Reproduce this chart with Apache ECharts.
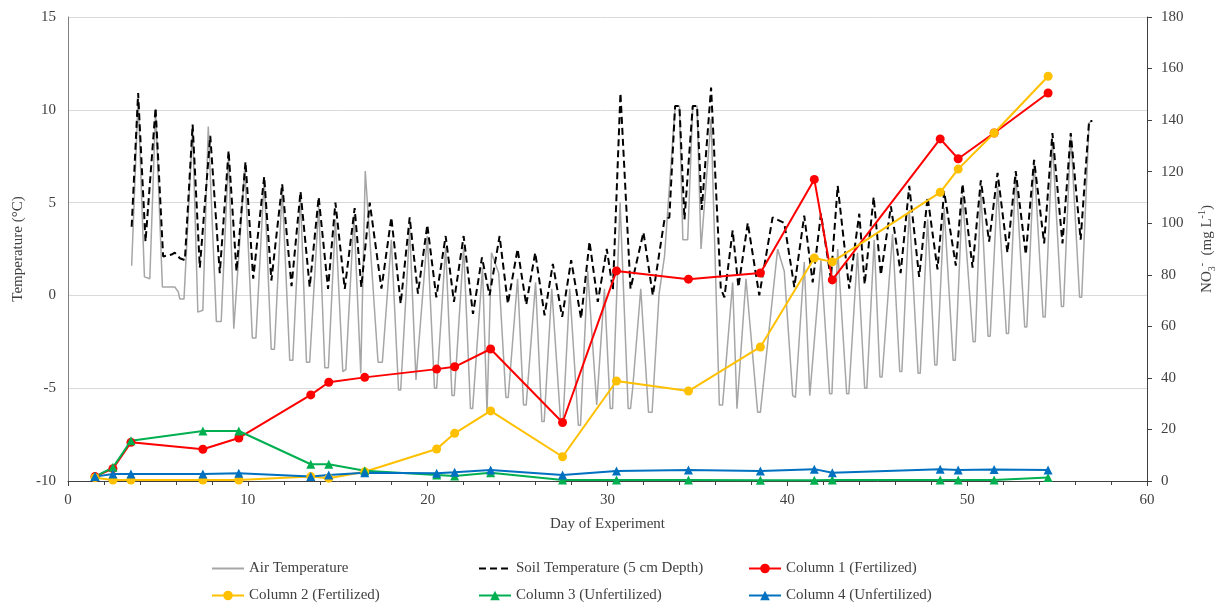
<!DOCTYPE html>
<html>
<head>
<meta charset="utf-8">
<script src="https://cdn.jsdelivr.net/npm/echarts@6/dist/echarts.min.js"></script>
<style>
  html, body { margin: 0; padding: 0; background: #fff; }
  #chart { width: 1225px; height: 608px; }
</style>
</head>
<body>
<div id="chart"></div>
<script>
var FONT = '"Liberation Serif", "Times New Roman", serif';

// sampling days of the leachate columns
var sampleDays = [1.5, 2.5, 3.5, 7.5, 9.5, 13.5, 14.5, 16.5, 20.5, 21.5, 23.5, 27.5, 30.5, 34.5, 38.5, 41.5, 42.5, 48.5, 49.5, 51.5, 54.5];
// NO3- (mg/L)
var col1 = [1.7, 4.8, 15, 12.3, 16.7, 33.4, 38.3, 40.2, 43.4, 44.3, 51.2, 22.7, 81.5, 78.3, 80.7, 117, 78, 132.7, 125, 135, 150.5];
var col2 = [1.3, 0.4, 0.4, 0.4, 0.4, 1.7, 1.1, 3.6, 12.4, 18.5, 27.2, 9.4, 38.8, 34.9, 52, 86.5, 85, 112, 121, 135, 157];
var col3 = [1.7, 5.3, 15.6, 19.4, 19.4, 6.5, 6.5, 4.0, 2.3, 1.9, 3.2, 0.4, 0.4, 0.4, 0.3, 0.3, 0.4, 0.4, 0.4, 0.4, 1.4];
var col4 = [1.7, 2.7, 2.7, 2.7, 3.0, 1.7, 2.3, 3.2, 3.0, 3.4, 4.3, 2.3, 3.9, 4.3, 3.9, 4.6, 3.2, 4.6, 4.3, 4.5, 4.3];

// [day, degC]
var soilTemp = [
  [3.54,3.7],[3.9,10.9],[4.31,2.9],[4.87,10.1],[5.29,2.1],[5.76,2.2],[5.94,2.3],[6.22,2.0],[6.5,1.9],
  [6.93,9.2],[7.33,1.5],[7.91,8.6],[8.44,1.2],[8.93,7.8],[9.37,1.3],[9.87,7.2],[10.3,0.9],[10.91,6.4],
  [11.31,0.8],[11.91,6.0],[12.43,0.5],[12.93,5.6],[13.44,0.45],[13.94,5.3],[14.46,0.35],[14.87,5.0],
  [15.39,0.35],[15.94,4.7],[16.31,0.45],[16.78,5.0],[17.43,0.36],[17.98,4.2],[18.5,-0.45],[19.0,4.2],
  [19.46,0.1],[19.98,3.8],[20.48,-0.1],[21.0,3.2],[21.46,-0.35],[22.0,3.2],[22.52,-1.0],[23.02,2.05],
  [23.44,0.0],[24.0,3.2],[24.46,-0.45],[25.0,2.5],[25.48,-0.5],[25.98,2.3],[26.5,-1.07],[26.96,1.7],
  [27.48,-1.16],[27.98,1.9],[28.53,-1.25],[29.0,2.9],[29.46,-0.35],[29.96,2.5],[30.3,0.3],[30.72,10.9],
  [31.28,0.36],[32.0,3.4],[32.52,0.0],[33.17,4.1],[33.44,4.2],[33.76,10.2],[34.0,10.2],[34.28,4.1],
  [34.74,10.2],[34.98,10.2],[35.24,4.6],[35.76,11.2],[36.3,0.36],[36.5,-0.1],[36.96,3.5],[37.28,0.45],
  [37.8,3.9],[38.44,0.0],[39.18,4.2],[39.83,3.9],[40.39,0.45],[40.94,4.3],[41.41,0.7],[41.87,4.4],
  [42.42,0.9],[42.8,5.9],[43.44,0.36],[44.0,4.4],[44.3,0.6],[44.8,5.3],[45.2,1.1],[45.76,4.8],[46.3,1.2],
  [46.78,5.9],[47.33,1.0],[47.8,5.3],[48.35,1.4],[48.72,5.6],[49.37,1.6],[49.74,6.0],[50.3,1.5],[50.76,6.2],
  [51.22,2.9],[51.69,6.6],[52.24,2.3],[52.7,6.7],[53.26,2.2],[53.72,7.3],[54.28,2.8],[54.74,8.75],
  [55.3,2.8],[55.76,8.75],[56.31,3.0],[56.78,9.4],[56.96,9.4]
];

var airTemp = [
  [3.54,1.6],[3.9,10.6],[4.25,1.0],[4.55,0.9],[4.87,10.0],[5.25,0.45],[5.94,0.45],[6.13,0.2],[6.22,-0.2],[6.45,-0.2],
  [6.93,9.0],[7.22,-0.9],[7.5,-0.8],[7.8,9.1],[8.25,-1.4],[8.52,-1.4],[8.93,7.6],[9.22,-1.8],[9.3,-1.8],
  [9.83,6.9],[10.25,-2.3],[10.45,-2.3],[10.91,6.3],[11.3,-2.9],[11.48,-2.9],[11.91,5.8],[12.33,-3.5],[12.5,-3.5],
  [12.93,5.3],[13.26,-3.6],[13.44,-3.6],[13.94,4.8],[14.28,-3.9],[14.48,-3.9],[14.87,4.1],[15.28,-4.1],[15.45,-4.0],
  [15.9,4.3],[16.28,-4.2],[16.36,-4.2],[16.53,6.7],[17.24,-3.6],[17.48,-3.6],[17.98,3.0],[18.38,-5.1],[18.5,-5.1],
  [19.0,3.6],[19.35,-4.55],[19.45,-4.55],[19.98,3.2],[20.38,-5.0],[20.5,-5.0],[21.0,2.6],[21.35,-5.4],[21.48,-5.4],
  [22.0,2.6],[22.38,-6.1],[22.5,-6.1],[23.05,1.5],[23.3,-6.3],[23.55,2.3],[23.95,1.2],[24.35,-5.5],[24.48,-5.5],
  [25.0,0.9],[25.33,-5.9],[25.48,-5.9],[26.0,0.7],[26.35,-6.8],[26.48,-6.8],[26.9,0.35],[27.4,-6.9],[27.52,-6.9],
  [27.9,0.35],[28.38,-7.0],[28.5,-7.0],[28.9,1.3],[29.4,-5.9],[29.5,-5.9],[29.83,0.35],[30.15,-6.1],[30.28,-6.1],
  [30.7,5.0],[31.15,-6.1],[31.28,-6.1],[31.4,-5.0],[31.85,0.36],[32.28,-6.3],[32.48,-6.3],[32.87,0.1],[33.17,2.1],
  [33.76,10.2],[34.0,10.2],[34.19,3.0],[34.46,3.0],[34.74,10.2],[34.98,10.2],[35.2,2.5],[35.76,9.5],[36.22,-5.9],
  [36.4,-5.9],[36.96,0.7],[37.2,-6.1],[37.3,-6.1],[37.7,0.9],[38.35,-6.3],[38.5,-6.3],[39.46,2.5],[39.83,1.3],
  [40.3,-5.4],[40.45,-5.5],[40.94,1.8],[41.25,-5.4],[41.35,-5.4],[41.87,1.9],[42.35,-5.3],[42.48,-5.3],[42.8,2.5],
  [43.3,-5.3],[43.42,-5.3],[43.9,2.3],[44.3,-5.0],[44.42,-5.0],[44.83,3.0],[45.15,-4.4],[45.27,-4.4],[45.85,3.3],
  [46.25,-4.1],[46.37,-4.1],[46.78,4.6],[47.27,-4.2],[47.39,-4.2],[47.8,4.1],[48.2,-3.75],[48.32,-3.75],[48.72,4.7],
  [49.22,-3.5],[49.34,-3.5],[49.74,5.4],[50.33,-2.5],[50.45,-2.5],[50.76,5.7],[51.16,-2.2],[51.28,-2.2],[51.69,5.9],
  [52.18,-2.05],[52.3,-2.05],[52.7,6.6],[53.2,-1.7],[53.32,-1.7],[53.72,7.3],[54.22,-1.16],[54.34,-1.16],[54.74,8.3],
  [55.24,-0.6],[55.36,-0.6],[55.76,8.7],[56.25,-0.1],[56.37,-0.1],[56.78,9.3],[56.95,9.4]
];

var names = ['Air Temperature', 'Soil Temperature (5 cm Depth)', 'Column 1 (Fertilized)',
             'Column 2 (Fertilized)', 'Column 3 (Unfertilized)', 'Column 4 (Unfertilized)'];

function pairs(xs, ys) {
  return xs.map(function (x, i) { return [x, ys[i]]; });
}

function colSeries(name, data, color, symbol, size) {
  return {
    name: name, type: 'line', yAxisIndex: 1,
    data: pairs(sampleDays, data),
    symbol: symbol, symbolSize: size,
    itemStyle: { color: color },
    lineStyle: { color: color, width: 2 },
    z: 5
  };
}

var txt = { fontFamily: FONT, fontSize: 15, color: '#404040' };

function leg(name, left, top, noMarker) {
  var l = {
    data: [name], left: left, top: top, padding: 0,
    itemWidth: 32, itemHeight: 12, selectedMode: false,
    textStyle: txt
  };
  // plain temperature lines: line only, no marker in the key
  if (noMarker) l.itemStyle = { color: 'rgba(0,0,0,0)', borderWidth: 0 };
  return l;
}

var chart = echarts.init(document.getElementById('chart'));
chart.setOption({
  animation: false,
  backgroundColor: '#fff',
  grid: { left: 68, right: 77, top: 17, bottom: 127 },
  legend: [
    leg(names[0], 211, 561, true), leg(names[1], 478, 561, true), leg(names[2], 748, 561),
    leg(names[3], 211, 588), leg(names[4], 478, 588), leg(names[5], 748, 588)
  ],
  xAxis: {
    type: 'value', min: 0, max: 60, interval: 10,
    axisLine: { show: true, onZero: false, lineStyle: { color: '#404040', width: 1 } },
    axisTick: { show: true, length: 5, lineStyle: { color: '#404040' } },
    minorTick: { show: true, splitNumber: 5, length: 4, lineStyle: { color: '#404040' } },
    splitLine: { show: false },
    axisLabel: Object.assign({ margin: 12 }, txt),
    name: 'Day of Experiment', nameLocation: 'middle', nameGap: 36,
    nameTextStyle: txt
  },
  yAxis: [{
    type: 'value', min: -10, max: 15, interval: 5,
    axisLine: { show: true, lineStyle: { color: '#808080' } },
    axisTick: { show: false },
    splitLine: { show: true, lineStyle: { color: '#d9d9d9', width: 1 } },
    axisLabel: Object.assign({ margin: 12 }, txt),
    name: 'Temperature (°C)', nameLocation: 'middle', nameGap: 42,
    nameTextStyle: txt
  }, {
    type: 'value', position: 'right', min: 0, max: 180, interval: 20,
    axisLine: { show: true, lineStyle: { color: '#404040' } },
    axisTick: { show: true, length: 5, lineStyle: { color: '#404040' } },
    splitLine: { show: false },
    axisLabel: Object.assign({ margin: 14 }, txt),
    name: '{n|NO}{sub|3}{sup|-}{n|  (mg L}{sup|-1}{n|)}', nameLocation: 'middle', nameGap: 50,
    nameTextStyle: {
      fontFamily: FONT, fontSize: 15, color: '#404040',
      rich: {
        n: { fontFamily: FONT, fontSize: 15, color: '#404040', lineHeight: 20, verticalAlign: 'middle' },
        sub: { fontFamily: FONT, fontSize: 10, color: '#404040', lineHeight: 20, verticalAlign: 'bottom' },
        sup: { fontFamily: FONT, fontSize: 10, color: '#404040', lineHeight: 20, verticalAlign: 'top' }
      }
    }
  }],
  series: [{
    name: names[0], type: 'line', data: airTemp, showSymbol: false, symbol: 'none',
    lineStyle: { color: '#a6a6a6', width: 1.5 }, itemStyle: { color: '#a6a6a6' }, z: 2
  }, {
    name: names[1], type: 'line', data: soilTemp, showSymbol: false, symbol: 'none',
    lineStyle: { color: '#000', width: 2, type: [7, 4] }, itemStyle: { color: '#000' }, z: 3
  },
    colSeries(names[2], col1, '#ff0000', 'circle', 9),
    colSeries(names[3], col2, '#ffc000', 'circle', 9),
    colSeries(names[4], col3, '#00b050', 'triangle', 9),
    colSeries(names[5], col4, '#0070c0', 'triangle', 9)
  ]
});
</script>
</body>
</html>
